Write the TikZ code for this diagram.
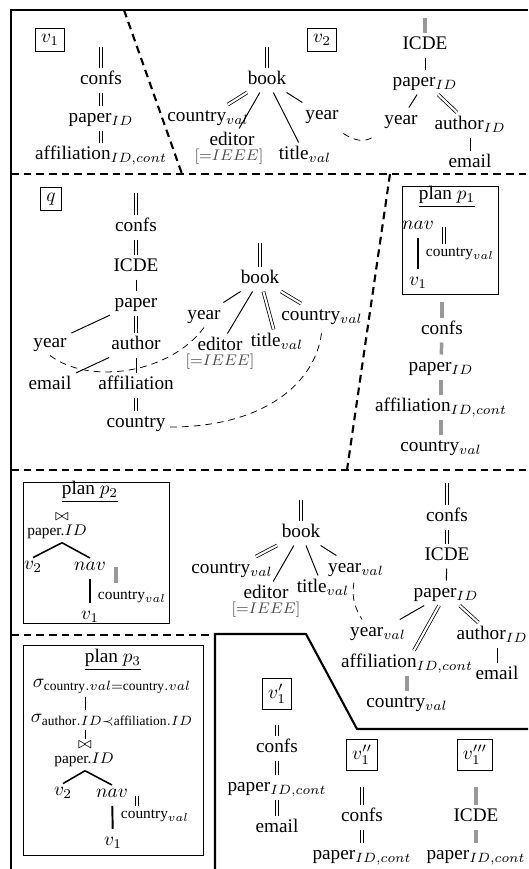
\documentclass[tikz,border=0pt]{standalone}
\usepackage{amsmath}
\usepackage{fontspec}
\setmainfont{Liberation Serif}
\usetikzlibrary{calc}
\begin{document}
\begin{tikzpicture}[x=0.52pt,y=-0.52pt,
  t/.style={inner sep=0.5pt, outer sep=2pt, text height=6.5pt, text depth=1.5pt},
  lbl/.style={draw, inner sep=3pt, line width=0.5pt},
  pn/.style={inner sep=0.5pt, outer sep=1.5pt},
  sm/.style={font=\footnotesize, inner sep=0.5pt, outer sep=1.5pt},
  cond/.style={font=\footnotesize, text=black!70, inner sep=0pt, text height=4.5pt, text depth=1.5pt},
  sgl/.style={line width=0.5pt},
  dbl/.style={double, double distance=1.1pt, line width=0.4pt},
  gry/.style={line width=1.8pt, draw=black!40},
  thk/.style={line width=1pt},
  jn/.style={line width=0.8pt},
  frame/.style={line width=1.1pt},
  sep/.style={line width=1.1pt, dash pattern=on 4pt off 2.6pt},
  cur/.style={line width=0.4pt, dash pattern=on 3.5pt off 2.6pt},
  box/.style={line width=0.5pt}
]
\useasboundingbox (0,0) rectangle (528,869);

% frame and separators
\draw[frame] (11,869) -- (11,10) -- (528,10);
\draw[frame] (215,869) -- (215,634) -- (306,634) -- (357,729) -- (528,729);
\draw[sep] (124,10) -- (182,174);
\draw[sep] (11,174) -- (528,174);
\draw[sep] (390,174) -- (347,470);
\draw[sep] (11,470) -- (528,470);
\draw[sep] (11,635) -- (215,635);

% ---------- v1 ----------
\node[lbl] (v1lab) at (50,40) {$v_1$};
\coordinate (a0) at (101,47);
\node[t] (a1) at (101,80) {confs};
\node[t] (a2) at (101,118) {paper$_{ID}$};
\node[t] (a3) at (101,155) {affiliation$_{ID,cont}$};
\draw[dbl] (a0) -- (a1);
\draw[dbl] (a1) -- (a2);
\draw[dbl] (a2) -- (a3);

% ---------- v2 book ----------
\node[lbl] (v2lab) at (322,40) {$v_2$};
\coordinate (b0) at (267,47);
\node[t] (b1) at (267,80) {book};
\node[t] (b2) at (208,117) {country$_{val}$};
\node[t] (b3) at (232,141) {editor};
\node[cond] (b3c) at (229,158) {$[{=}IEEE]$};
\node[t] (b4) at (305,155) {title$_{val}$};
\node[t] (b5) at (322,115) {year};
\draw[dbl] (b0) -- (b1);
\draw[dbl] (b1) -- (b2);
\draw[sgl] (b1) -- (b3);
\draw[sgl] (b1) -- (b4);
\draw[sgl] (b1) -- (b5);

% ---------- v2 ICDE ----------
\coordinate (c0) at (425,18);
\node[t] (c1) at (425,45) {ICDE};
\node[t] (c2) at (425,82) {paper$_{ID}$};
\node[t] (c3) at (401,120) {year};
\node[t] (c4) at (470,125) {author$_{ID}$};
\node[t] (c5) at (470,163) {email};
\draw[gry] (c0) -- (c1);
\draw[sgl] (c1) -- (c2);
\draw[sgl] (c2) -- (c3);
\draw[dbl] (c2) -- (c4);
\draw[sgl] (c4) -- (c5);
\draw[cur] ($(b5.south east)+(0,6)$) .. controls +(12,8) and +(-8,6) .. ($(c3.south west)+(-6,4)$);

% ---------- q ----------
\node[lbl] (qlab) at (51,199) {$q$};
\coordinate (d0) at (136,193);
\node[t] (d1) at (136,227) {confs};
\node[t] (d2) at (136,267) {ICDE};
\node[t] (d3) at (136,303) {paper};
\node[t] (d4) at (136,345) {author};
\node[t] (d5) at (136,385) {affiliation};
\node[t] (d6) at (136,423) {country};
\node[t] (d7) at (50,343) {year};
\node[t] (d8) at (50,385) {email};
\draw[dbl] (d0) -- (d1);
\draw[dbl] (d1) -- (d2);
\draw[sgl] (d2) -- (d3);
\draw[dbl] (d3) -- (d4);
\draw[sgl] (d4) -- (d5);
\draw[dbl] (d5) -- (d6);
\draw[sgl] (d3) -- (d7);
\draw[sgl] (d4) -- (d8);

\coordinate (e0) at (260,243);
\node[t] (e1) at (260,279) {book};
\node[t] (e2) at (204,315) {year};
\node[t] (e3) at (220,346) {editor};
\node[cond] (e3c) at (220,363) {$[{=}IEEE]$};
\node[t] (e4) at (277,342) {title$_{val}$};
\node[t] (e5) at (322,316) {country$_{val}$};
\draw[dbl] (e0) -- (e1);
\draw[sgl] (e1) -- (e2);
\draw[sgl] (e1) -- (e3);
\draw[dbl] (e1) -- (e4);
\draw[dbl] (e1) -- (e5);

\draw[cur] (d7.south) .. controls +(40,30) and +(-34,46) .. (e2.south);
\draw[cur] ($(d6.east)+(0,4)$) .. controls +(94,0) and +(-4,54) .. (e5.south);

% ---------- plan p1 ----------
\draw[box] (402,186) rectangle (498,294);
\node[pn] (p1t) at (447,197) {\underline{plan $p_1$}};
\node[pn] (p1nav) at (418,225) {$nav$};
\node[pn] (p1v) at (418,283) {$v_1$};
\draw[thk, shorten <=2.5pt, shorten >=2.5pt] (p1nav) -- (p1v);
\node[sm] (p1c) at (460,254) {country$_{val}$};
\coordinate (p1m) at (444,227);
\draw[dbl] (p1m) -- (p1m |- p1c.north);

\coordinate (f0) at (442,302);
\node[t] (f1) at (442,330) {confs};
\node[t] (f2) at (441,367) {paper$_{ID}$};
\node[t] (f3) at (441,407) {affiliation$_{ID,cont}$};
\node[t] (f4) at (441,447) {country$_{val}$};
\draw[gry] (f0) -- (f1);
\draw[gry] (f1) -- (f2);
\draw[gry] (f2) -- (f3);
\draw[gry] (f3) -- (f4);

% ---------- plan p2 ----------
\draw[box] (23,482) rectangle (169,623);
\node[pn] (p2t) at (90,492) {\underline{plan $p_2$}};
\node[font=\footnotesize, inner sep=0pt] (p2j) at (62,517) {$\bowtie$};
\node[sm] (p2jl) at (57,532) {paper.$ID$};
\node[pn] (p2v2) at (33,567) {$v_2$};
\node[pn] (p2nav) at (90,566) {$nav$};
\node[pn] (p2v1) at (90,617) {$v_1$};
\draw[jn] (p2j |- p2jl.south) -- (p2v2.north);
\draw[jn] (p2j |- p2jl.south) -- (p2nav.north);
\draw[thk, shorten <=2.5pt, shorten >=2.5pt] (p2nav) -- (p2v1);
\node[sm] (p2c) at (132,597) {country$_{val}$};
\coordinate (p2m) at (116,567);
\draw[gry, shorten >=2pt] (p2m) -- (p2m |- p2c.north);

% ---------- book (section 3) ----------
\coordinate (g0) at (301,500);
\node[t] (g1) at (301,533) {book};
\node[t] (g2) at (232,569) {country$_{val}$};
\node[t] (g3) at (266,594) {editor};
\node[cond] (g3c) at (266,611) {$[{=}IEEE]$};
\node[t] (g4) at (323,588) {title$_{val}$};
\node[t] (g5) at (356,568) {year$_{val}$};
\draw[dbl] (g0) -- (g1);
\draw[dbl] (g1) -- (g2);
\draw[sgl] (g1) -- (g3);
\draw[sgl] (g1) -- (g4);
\draw[sgl] (g1) -- (g5);

% ---------- paper tree (section 3) ----------
\coordinate (h0) at (447,483);
\node[t] (h1) at (447,517) {confs};
\node[t] (h2) at (447,556) {ICDE};
\node[t] (h3) at (446,593) {paper$_{ID}$};
\node[t] (h4) at (378,632) {year$_{val}$};
\node[t] (h5) at (407,663) {affiliation$_{ID,cont}$};
\node[t] (h6) at (407,703) {country$_{val}$};
\node[t] (h7) at (492,635) {author$_{ID}$};
\node[t] (h8) at (497,675) {email};
\draw[dbl] (h0) -- (h1);
\draw[dbl] (h1) -- (h2);
\draw[sgl] (h2) -- (h3);
\draw[sgl] (h3) -- (h4);
\draw[dbl] (h3) -- (h5);
\draw[gry] (h5) -- (h6);
\draw[dbl] (h3) -- (h7);
\draw[sgl] (h8 |- h7.south) -- (h8.north);
\draw[cur] ($(g5.south)+(-2,2)$) .. controls +(-3,16) and +(-6,-10) .. ($(h4.north)+(-16,0)$);

% ---------- plan p3 ----------
\draw[box] (23,645) rectangle (203,855);
\node[pn] (p3t) at (113,660) {\underline{plan $p_3$}};
\node[pn] (p3s1) at (112,686) {$\sigma_{\text{country}.val=\text{country}.val}$};
\node[pn] (p3s2) at (112,720) {$\sigma_{\text{author}.ID\prec\text{affiliation}.ID}$};
\node[font=\footnotesize, inner sep=0pt] (p3j) at (85,745) {$\bowtie$};
\node[sm] (p3jl) at (84,760) {paper.$ID$};
\node[pn] (p3v2) at (63,793) {$v_2$};
\node[pn] (p3nav) at (112,793) {$nav$};
\node[pn] (p3v1) at (113,843) {$v_1$};
\draw[sgl] (p3s1.south -| p3j) -- (p3s2.north -| p3j);
\draw[sgl] (p3s2.south -| p3j) -- ([yshift=1pt]p3j.north);
\draw[jn] (p3j |- p3jl.south) -- (p3v2.north);
\draw[jn] (p3j |- p3jl.south) -- (p3nav.north);
\draw[thk, shorten <=2.5pt, shorten >=2.5pt] (p3nav) -- (p3v1);
\node[sm] (p3c) at (155,816) {country$_{val}$};
\coordinate (p3m) at (137,796);
\draw[dbl] (p3m) -- (p3m |- p3c.north);

% ---------- v1', v1'', v1''' ----------
\node[lbl] (w1) at (277,694) {$v_1'$};
\coordinate (w0) at (277,725);
\node[t] (w2) at (277,748) {confs};
\node[t] (w3) at (277,787) {paper$_{ID,cont}$};
\node[t] (w4) at (277,828) {email};
\draw[dbl] (w0) -- (w2);
\draw[dbl] (w2) -- (w3);
\draw[dbl] (w3) -- (w4);

\node[lbl] (x1) at (362,755) {$v_1''$};
\coordinate (x0) at (362,787);
\node[t] (x2) at (362,817) {confs};
\node[t] (x3) at (362,855) {paper$_{ID,cont}$};
\draw[dbl] (x0) -- (x2);
\draw[dbl] (x2) -- (x3);

\node[lbl] (y1) at (475,755) {$v_1'''$};
\coordinate (y0) at (476,787);
\node[t] (y2) at (476,817) {ICDE};
\node[t] (y3) at (476,855) {paper$_{ID,cont}$};
\draw[gry] (y0) -- (y2);
\draw[gry] (y2) -- (y3);
\end{tikzpicture}
\end{document}
